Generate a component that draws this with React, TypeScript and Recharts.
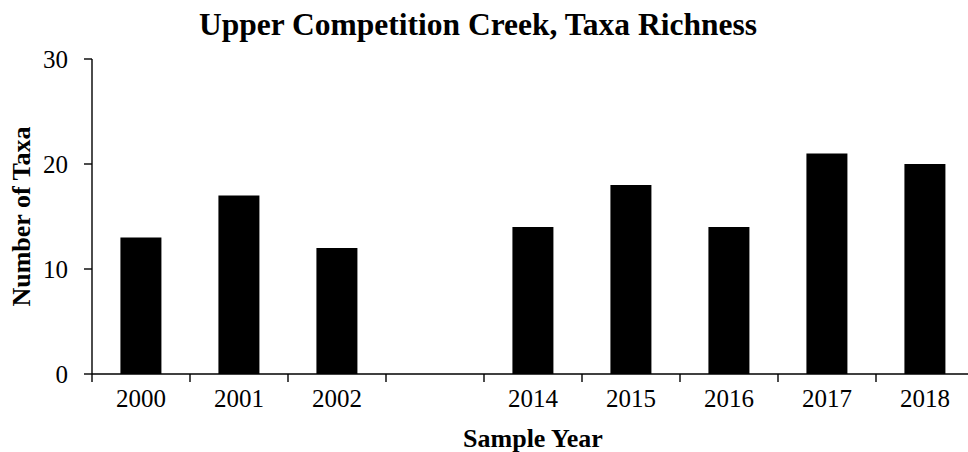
import { BarChart, Bar, XAxis, YAxis } from 'recharts'

const YEARS = ['2000', '2001', '2002', '', '2014', '2015', '2016', '2017', '2018']
const TAXA = [13, 17, 12, null, 14, 18, 14, 21, 20]
const Y_TICKS = [0, 10, 20, 30]

const TITLE = 'Upper Competition Creek, Taxa Richness'
const X_TITLE = 'Sample Year'
const Y_TITLE = 'Number of Taxa'

const FONT = '"Liberation Serif", "Times New Roman", serif'
const LINE_W = 1.4

// layout
const CHART_W = 980
const CHART_H = 452
const MARGIN = { top: 59, right: 6, bottom: 0, left: 0 }
const Y_AXIS_W = 92
const X_AXIS_H = 78
const PLOT_W = CHART_W - MARGIN.left - MARGIN.right - Y_AXIS_W
const SLOT = PLOT_W / YEARS.length
const X_TICK_SIZE = 8
const X_TICK_MARGIN = 7

const data = YEARS.map((year, i) => ({ year, taxa: TAXA[i] }))

// Excel-style: tick marks between categories, labels centred
function XTick(props: any) {
  const { x, y, payload, index } = props
  const axisY = y - X_TICK_SIZE - X_TICK_MARGIN
  const left = x - SLOT / 2
  return (
    <g>
      <line x1={left} x2={left} y1={axisY} y2={axisY + X_TICK_SIZE} stroke="#000" strokeWidth={LINE_W} />
      {index === YEARS.length - 1 && (
        <line x1={x + SLOT / 2} x2={x + SLOT / 2} y1={axisY} y2={axisY + X_TICK_SIZE} stroke="#000" strokeWidth={LINE_W} />
      )}
      <text x={x} y={y} dy="0.71em" textAnchor="middle" fontSize={25} fontFamily={FONT} fill="#000">
        {payload.value}
      </text>
    </g>
  )
}

export default function App() {
  return (
    <div style={{ position: 'fixed', left: 0, top: 0, width: 968, height: 452, overflow: 'hidden', background: '#fff' }}>
      <BarChart width={CHART_W} height={CHART_H} data={data} margin={MARGIN} barCategoryGap="29%">
        <XAxis
          dataKey="year"
          interval={0}
          height={X_AXIS_H}
          axisLine={{ stroke: '#000', strokeWidth: LINE_W }}
          tickLine={false}
          tickSize={X_TICK_SIZE}
          tickMargin={X_TICK_MARGIN}
          tick={<XTick />}
        />
        <YAxis
          width={Y_AXIS_W}
          domain={[0, 30]}
          ticks={Y_TICKS}
          interval={0}
          axisLine={{ stroke: '#000', strokeWidth: LINE_W }}
          tickLine={{ stroke: '#000', strokeWidth: LINE_W }}
          tickSize={8}
          tickMargin={16}
          tick={{ fontSize: 25, fontFamily: FONT, fill: '#000' }}
        />
        <Bar dataKey="taxa" fill="#000" isAnimationActive={false} />
      </BarChart>
      <svg
        width={968}
        height={452}
        style={{ position: 'absolute', left: 0, top: 0, pointerEvents: 'none' }}
        fontFamily={FONT}
      >
        <text x={478} y={35} textAnchor="middle" fontSize={31.5} fontWeight="bold" fill="#000">
          {TITLE}
        </text>
        <text x={533} y={447} textAnchor="middle" fontSize={26} fontWeight="bold" fill="#000">
          {X_TITLE}
        </text>
        <text
          transform="translate(30, 216.5) rotate(-90)"
          textAnchor="middle"
          fontSize={26}
          fontWeight="bold"
          fill="#000"
        >
          {Y_TITLE}
        </text>
      </svg>
    </div>
  )
}
